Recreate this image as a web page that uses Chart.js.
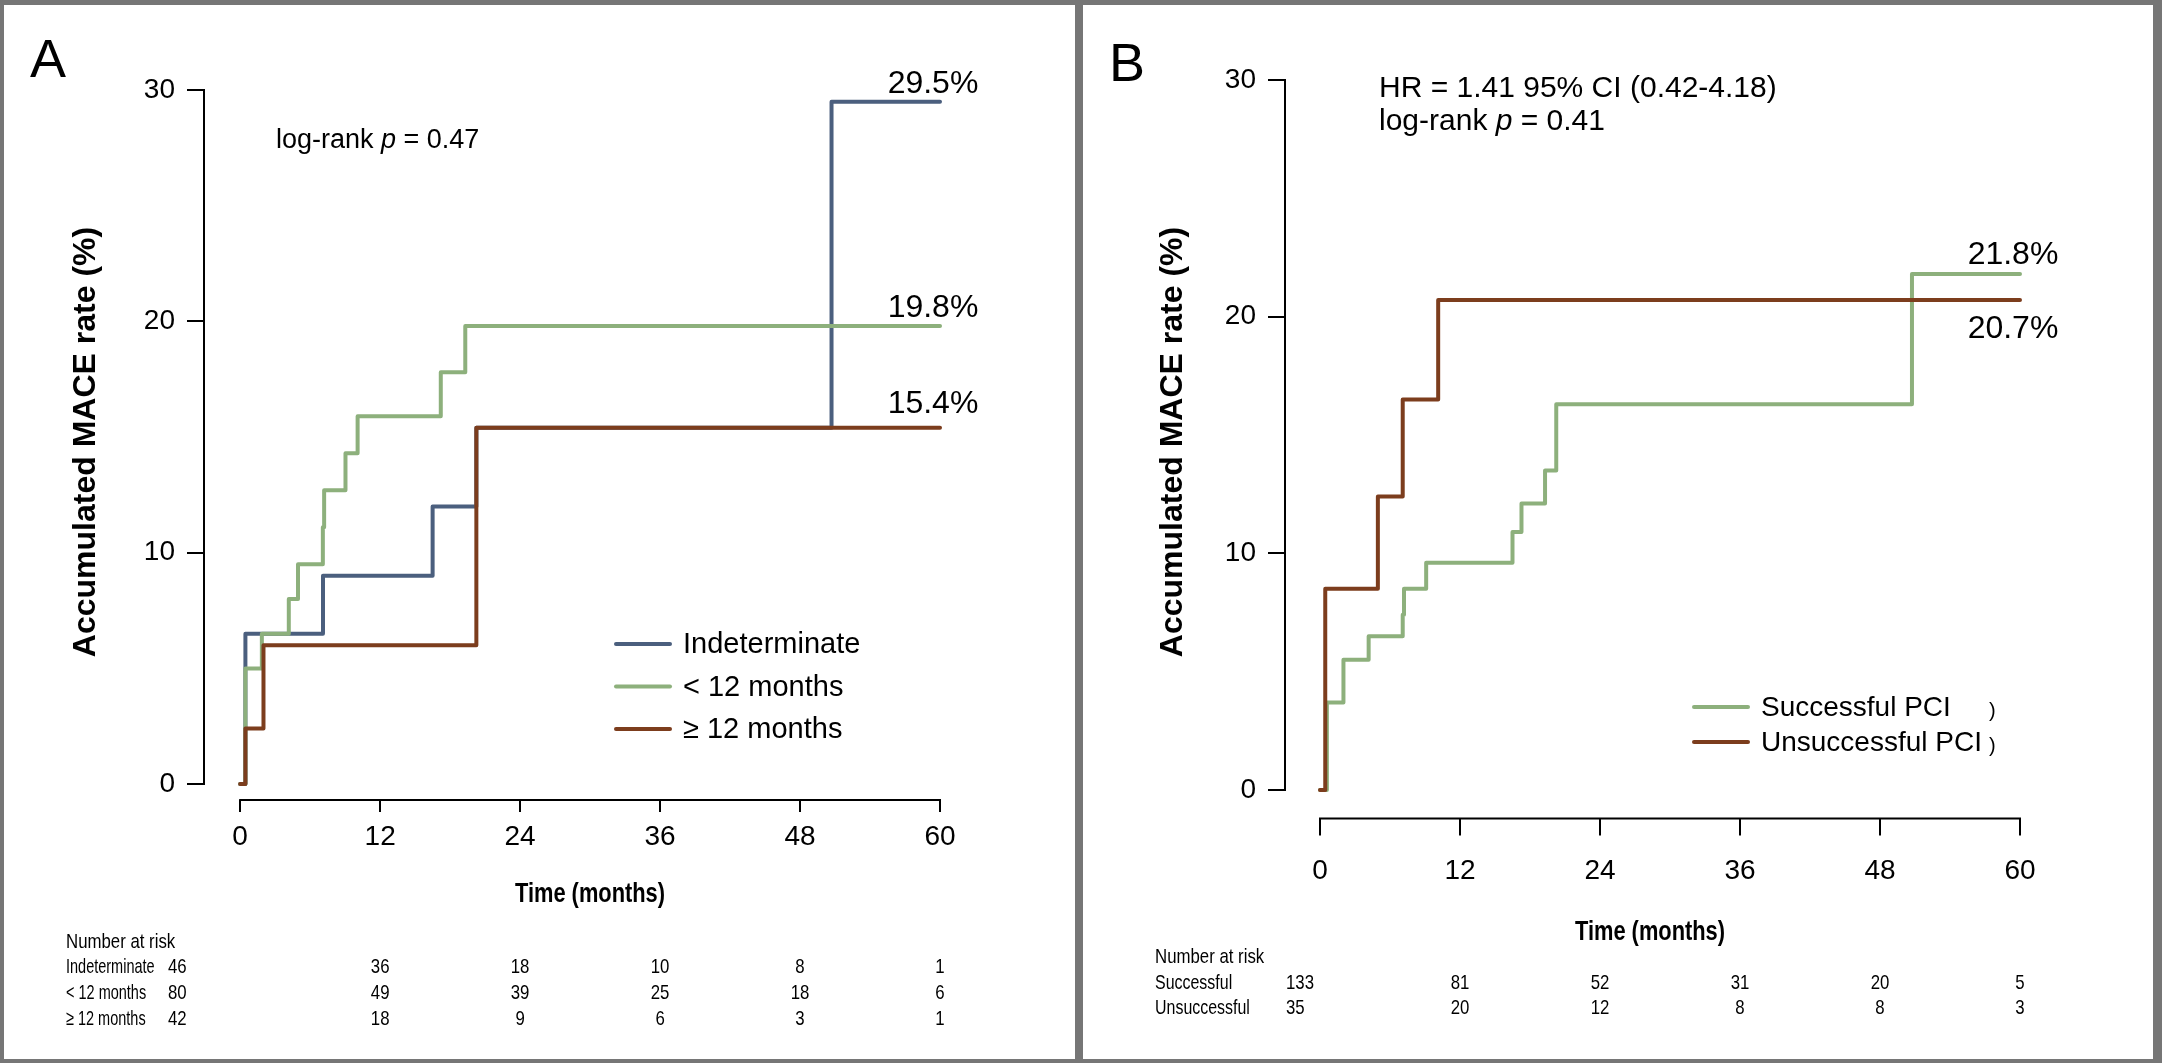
<!DOCTYPE html>
<html>
<head>
<meta charset="utf-8">
<script src="https://cdn.jsdelivr.net/npm/chart.js@4.4.1/dist/chart.umd.min.js"></script>
<style>
  html, body { margin: 0; padding: 0; background: #767676; }
  body { width: 2162px; height: 1063px; position: relative; overflow: hidden; }
  .panel { position: absolute; background: #fff; }
  #panelA { left: 4px; top: 5px; width: 1071px; height: 1054px; }
  #panelB { left: 1083px; top: 5px; width: 1070px; height: 1054px; }
  canvas { display: block; }
</style>
</head>
<body>
<div class="panel" id="panelA"><canvas id="chartA" width="1071" height="1054"></canvas></div>
<div class="panel" id="panelB"><canvas id="chartB" width="1070" height="1054"></canvas></div>
<script>
// ---- data ----
const xTicks = [0, 12, 24, 36, 48, 60];
const yTicks = [0, 10, 20, 30];

// panel A
const indetTime  = [0, 0.45, 7.1, 16.5, 20.25, 50.7, 60];
const indetRate  = [0, 6.5, 9.0, 12.0, 15.4, 29.5, 29.5];
const less12Time = [0, 0.45, 1.86, 4.17, 4.96, 7.09, 7.2, 9.03, 10.07, 17.2, 19.3, 60];
const less12Rate = [0, 5.0, 6.5, 8.0, 9.5, 11.1, 12.7, 14.3, 15.9, 17.8, 19.8, 19.8];
const more12Time = [0, 0.45, 2.0, 20.25, 60];
const more12Rate = [0, 2.4, 6.0, 15.4, 15.4];

// panel B
const successTime   = [0, 0.59, 2.01, 4.17, 7.09, 7.2, 9.1, 16.5, 17.27, 19.29, 20.25, 50.74, 60];
const successRate   = [0, 3.7, 5.5, 6.5, 7.4, 8.5, 9.6, 10.9, 12.1, 13.5, 16.3, 21.8, 21.8];
const unsuccessTime = [0, 0.45, 4.96, 7.09, 10.13, 60];
const unsuccessRate = [0, 8.5, 12.4, 16.5, 20.7, 20.7];

// number at risk
const riskTimes = [0, 12, 24, 36, 48, 60];
const riskIndet = [46, 36, 18, 10, 8, 1];
const riskLess12 = [80, 49, 39, 25, 18, 6];
const riskMore12 = [42, 18, 9, 6, 3, 1];
const riskSuccess = [133, 81, 52, 31, 20, 5];
const riskUnsuccess = [35, 20, 12, 8, 8, 3];

const FONT = "'Liberation Sans', Arial, Helvetica, sans-serif";
const BLUE = '#4b5f7e', GREEN = '#8db07c', BROWN = '#7c3d1d';

Chart.defaults.font.family = FONT;
Chart.defaults.color = '#000';

function pts(times, rates) {
  return times.map((t, i) => ({ x: t, y: rates[i] }));
}

function curve(label, times, rates, color, order) {
  return {
    label: label, data: pts(times, rates), borderColor: color, backgroundColor: color,
    borderWidth: 4, stepped: true, pointRadius: 0, fill: false, order: order,
    borderCapStyle: 'round', borderJoinStyle: 'round'
  };
}

// text with an italic "p"
function statText(ctx, text, x, y, size) {
  const normal = size + 'px ' + FONT, italic = 'italic ' + size + 'px ' + FONT;
  ctx.font = normal;
  const parts = text.split(' p ');
  if (parts.length < 2) { ctx.fillText(text, x, y); return; }
  ctx.fillText(parts[0] + ' ', x, y);
  x += ctx.measureText(parts[0] + ' ').width;
  ctx.font = italic;
  ctx.fillText('p', x, y);
  x += ctx.measureText('p').width;
  ctx.font = normal;
  ctx.fillText(' ' + parts[1], x, y);
}

// horizontally condensed text
function narrowText(ctx, text, x, y, sx) {
  ctx.save();
  ctx.translate(x, y);
  ctx.scale(sx, 1);
  ctx.fillText(text, 0, 0);
  ctx.restore();
}

const kmExtras = {
  id: 'kmExtras',
  afterDraw(chart, args, o) {
    const ctx = chart.ctx, xs = chart.scales.x, ys = chart.scales.y, area = chart.chartArea;
    ctx.save();
    // R-style axis lines spanning only the tick range
    ctx.strokeStyle = '#000';
    ctx.lineWidth = 2;
    ctx.beginPath();
    ctx.moveTo(area.left, ys.getPixelForValue(yTicks[0]) + 1);
    ctx.lineTo(area.left, ys.getPixelForValue(yTicks[yTicks.length - 1]) - 1);
    ctx.moveTo(xs.getPixelForValue(xTicks[0]) - 1, area.bottom);
    ctx.lineTo(xs.getPixelForValue(xTicks[xTicks.length - 1]) + 1, area.bottom);
    ctx.stroke();

    ctx.fillStyle = '#000';
    ctx.textAlign = 'left';
    ctx.textBaseline = 'alphabetic';
    ctx.font = '54px ' + FONT;
    ctx.fillText(o.letter, o.letterX, o.letterY);

    o.stats.forEach((s, i) => statText(ctx, s, o.statX, o.statY + i * o.statGap, o.statSize));

    // end-of-curve percentages
    ctx.font = o.endSize + 'px ' + FONT;
    ctx.textAlign = 'center';
    chart.data.datasets.forEach((ds, i) => {
      const last = ds.data[ds.data.length - 1];
      const px = xs.getPixelForValue(last.x) - 7;
      const py = ys.getPixelForValue(last.y);
      ctx.fillText(last.y.toFixed(1) + '%', px, py + o.endOffsets[i]);
    });

    // legend
    ctx.font = o.legendSize + 'px ' + FONT;
    ctx.textAlign = 'left';
    ctx.textBaseline = 'middle';
    chart.data.datasets.forEach((ds, i) => {
      const y = o.legendY + i * o.legendGap;
      ctx.strokeStyle = ds.borderColor;
      ctx.lineWidth = 4;
      ctx.lineCap = 'round';
      ctx.beginPath();
      ctx.moveTo(o.legendX, y);
      ctx.lineTo(o.legendX + 54, y);
      ctx.stroke();
      ctx.fillText(ds.label, o.legendX + 67, y + 1);
    });
    // stray clipped glyphs to the right of the legend in panel B
    if (o.legendMarks) {
      ctx.font = '20px ' + FONT;
      o.legendMarks.forEach(m => ctx.fillText(')', m.x, m.y));
    }

    // y axis title, bold, rotated
    ctx.save();
    ctx.font = 'bold 32px ' + FONT;
    ctx.textAlign = 'center';
    ctx.translate(o.yTitleX, o.yTitleY);
    ctx.rotate(-Math.PI / 2);
    ctx.fillText('Accumulated MACE rate (%)', 0, 0);
    ctx.restore();

    // x axis title, condensed bold
    ctx.font = 'bold 28px ' + FONT;
    ctx.textAlign = 'center';
    narrowText(ctx, 'Time (months)', o.xTitleX, o.xTitleY, 0.78);

    // number at risk table
    ctx.font = '21px ' + FONT;
    ctx.textAlign = 'left';
    narrowText(ctx, 'Number at risk', o.riskX, o.riskTitleY, 0.8);
    o.riskRows.forEach((row, r) => {
      const y = o.riskY + r * o.riskGap;
      ctx.textAlign = 'left';
      narrowText(ctx, row.label, o.riskX, y, o.riskLabelScale);
      row.values.forEach((v, k) => {
        if (k === 0) {
          ctx.textAlign = 'left';
          narrowText(ctx, String(v), o.riskFirstX, y, 0.8);
        } else {
          ctx.textAlign = 'center';
          narrowText(ctx, String(v), xs.getPixelForValue(riskTimes[k]), y, 0.8);
        }
      });
    });
    ctx.restore();
  }
};

function makeOptions(cfg) {
  return {
    responsive: false,
    animation: false,
    devicePixelRatio: 1,
    layout: { padding: { left: 0, right: cfg.padRight, top: cfg.padTop, bottom: 0 } },
    plugins: {
      legend: { display: false },
      tooltip: { enabled: false },
      kmExtras: cfg.extras
    },
    scales: {
      x: {
        type: 'linear', min: cfg.xMin, max: 62.4,
        afterBuildTicks: s => { s.ticks = xTicks.map(v => ({ value: v })); },
        afterFit: s => { s.height = cfg.xHeight; },
        grid: { drawOnChartArea: false, drawTicks: true, tickLength: cfg.xTick, color: '#000', lineWidth: 2 },
        border: { display: false },
        ticks: { font: { size: 28 }, color: '#000', padding: cfg.xPad, maxRotation: 0, autoSkip: false }
      },
      y: {
        type: 'linear', min: cfg.yMin, max: 31.2,
        afterBuildTicks: s => { s.ticks = yTicks.map(v => ({ value: v })); },
        afterFit: s => { s.width = cfg.yWidth; },
        grid: { drawOnChartArea: false, drawTicks: true, tickLength: 17, color: '#000', lineWidth: 2 },
        border: { display: false },
        ticks: { font: { size: 28 }, color: '#000', padding: 12, autoSkip: false }
      }
    }
  };
}

new Chart(document.getElementById('chartA'), {
  type: 'line',
  data: {
    datasets: [
      curve('Indeterminate', indetTime, indetRate, BLUE, 3),
      curve('< 12 months', less12Time, less12Rate, GREEN, 2),
      curve('\u2265 12 months', more12Time, more12Rate, BROWN, 1)
    ]
  },
  options: makeOptions({
    padRight: 107, padTop: 57.3, xHeight: 259, yWidth: 200, xMin: -3.1, yMin: -0.69,
    xTick: 12, xPad: 8,
    extras: {
      letter: 'A', letterX: 26, letterY: 72,
      stats: ['log-rank p = 0.47'], statX: 272, statY: 143, statGap: 33, statSize: 27,
      endSize: 32, endOffsets: [-9, -9, -15],
      legendX: 612, legendY: 639, legendGap: 42.5, legendSize: 29,
      yTitleX: 82, yTitleY: 437,
      xTitleX: 586, xTitleY: 889,
      riskX: 62, riskTitleY: 937, riskY: 962, riskGap: 26, riskFirstX: 164, riskLabelScale: 0.69,
      riskRows: [
        { label: 'Indeterminate', values: riskIndet },
        { label: '< 12 months', values: riskLess12 },
        { label: '\u2265 12 months', values: riskMore12 }
      ]
    }
  }),
  plugins: [kmExtras]
});

new Chart(document.getElementById('chartB'), {
  type: 'line',
  data: {
    datasets: [
      curve('Successful PCI', successTime, successRate, GREEN, 2),
      curve('Unsuccessful PCI', unsuccessTime, unsuccessRate, BROWN, 1)
    ]
  },
  options: makeOptions({
    padRight: 105, padTop: 46.5, xHeight: 240.6, yWidth: 202, xMin: -3.0, yMin: -1.2,
    xTick: 17, xPad: 19,
    extras: {
      letter: 'B', letterX: 26, letterY: 76,
      stats: ['HR = 1.41 95% CI (0.42-4.18)', 'log-rank p = 0.41'], statX: 296, statY: 92, statGap: 33, statSize: 30,
      endSize: 32, endOffsets: [-10, 38],
      legendX: 611, legendY: 702, legendGap: 35, legendSize: 28,
      legendMarks: [{ x: 906, y: 706 }, { x: 906, y: 741 }],
      yTitleX: 90, yTitleY: 437,
      xTitleX: 567, xTitleY: 927,
      riskX: 72, riskTitleY: 952, riskY: 978, riskGap: 25, riskFirstX: 203, riskLabelScale: 0.76,
      riskRows: [
        { label: 'Successful', values: riskSuccess },
        { label: 'Unsuccessful', values: riskUnsuccess }
      ]
    }
  }),
  plugins: [kmExtras]
});
</script>
</body>
</html>
